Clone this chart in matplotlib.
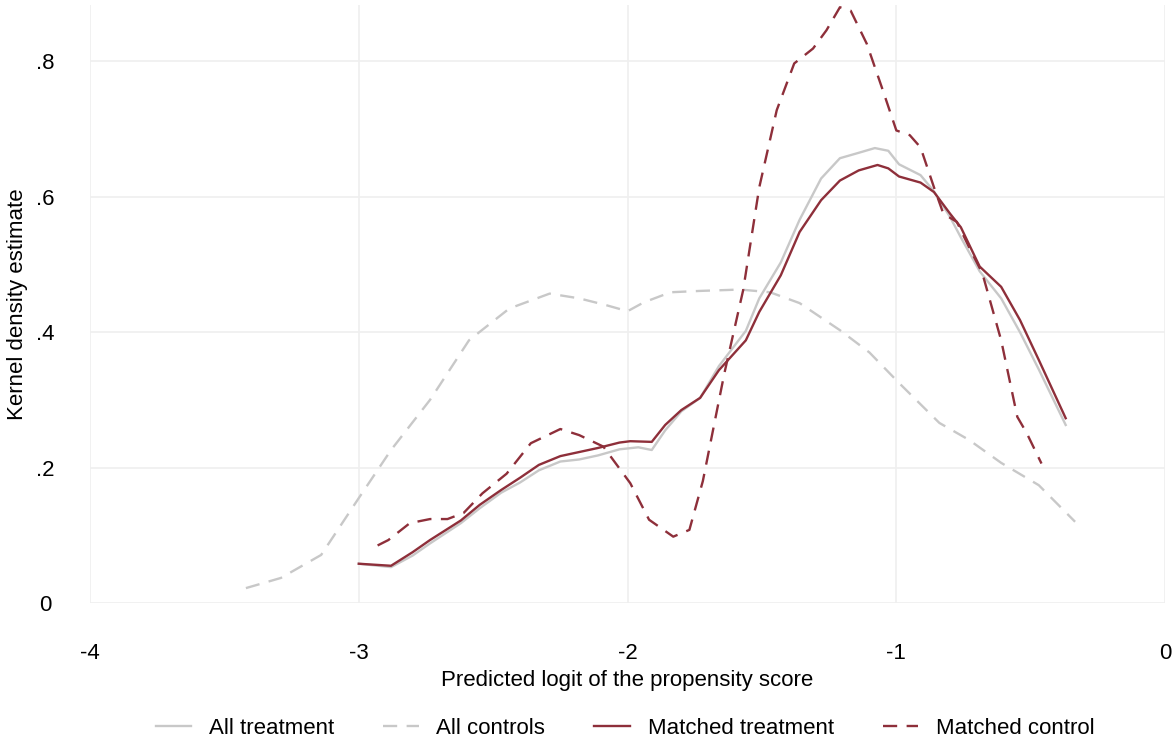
import numpy as np
import matplotlib.pyplot as plt

plt.rcParams['font.family'] = ['Liberation Sans', 'DejaVu Sans']

# All treatment (grey solid)
at_x = [-3.00, -2.88, -2.80, -2.735, -2.62, -2.55, -2.47, -2.40, -2.33, -2.25, -2.18, -2.11,
        -2.03, -1.96, -1.91, -1.86, -1.80, -1.73, -1.66, -1.56, -1.51, -1.43, -1.36, -1.28,
        -1.21, -1.14, -1.08, -1.03, -0.99, -0.91, -0.86, -0.80, -0.76, -0.69, -0.61, -0.54,
        -0.47, -0.37]
at_y = [0.058, 0.053, 0.070, 0.088, 0.118, 0.140, 0.163, 0.178, 0.196, 0.209, 0.212, 0.218,
        0.227, 0.230, 0.226, 0.255, 0.283, 0.303, 0.350, 0.402, 0.450, 0.503, 0.566, 0.627,
        0.657, 0.665, 0.672, 0.668, 0.648, 0.632, 0.608, 0.570, 0.540, 0.490, 0.450, 0.400,
        0.345, 0.263]

# All controls (grey dashed)
ac_x = [-3.42, -3.29, -3.14, -3.00, -2.88, -2.735, -2.59, -2.44, -2.29, -2.18, -2.08,
        -2.00, -1.94, -1.84, -1.73, -1.58, -1.47, -1.36, -1.21, -1.10, -0.99, -0.84,
        -0.73, -0.61, -0.47, -0.335]
ac_y = [0.022, 0.037, 0.071, 0.155, 0.226, 0.300, 0.388, 0.435, 0.457, 0.450, 0.440,
        0.431, 0.444, 0.459, 0.461, 0.463, 0.459, 0.443, 0.403, 0.370, 0.325, 0.266,
        0.241, 0.207, 0.174, 0.120]

# Matched treatment (red solid)
mt_x = [-3.00, -2.88, -2.80, -2.735, -2.62, -2.55, -2.47, -2.40, -2.33, -2.25, -2.18, -2.11,
        -2.03, -1.99, -1.91, -1.86, -1.80, -1.73, -1.66, -1.56, -1.51, -1.43, -1.36, -1.28,
        -1.21, -1.14, -1.07, -1.03, -0.99, -0.91, -0.86, -0.80, -0.76, -0.69, -0.61, -0.54,
        -0.47, -0.37]
mt_y = [0.058, 0.055, 0.075, 0.093, 0.122, 0.145, 0.167, 0.185, 0.204, 0.217, 0.223, 0.229,
        0.237, 0.239, 0.238, 0.263, 0.285, 0.303, 0.344, 0.388, 0.430, 0.484, 0.548, 0.595,
        0.624, 0.639, 0.647, 0.642, 0.630, 0.621, 0.607, 0.575, 0.555, 0.497, 0.467, 0.418,
        0.359, 0.273]

# Matched control (red dashed)
mc_x = [-2.93, -2.89, -2.81, -2.735, -2.67, -2.61, -2.54, -2.45, -2.36, -2.25, -2.18, -2.09,
        -1.99, -1.92, -1.83, -1.77, -1.72, -1.64, -1.57, -1.51, -1.445, -1.38, -1.31, -1.26,
        -1.21, -1.17, -1.11, -1.05, -1.00, -0.95, -0.91, -0.86, -0.825, -0.775, -0.73, -0.68,
        -0.61, -0.55, -0.515, -0.46]
mc_y = [0.085, 0.093, 0.118, 0.124, 0.124, 0.133, 0.162, 0.191, 0.236, 0.257, 0.248, 0.231,
        0.177, 0.123, 0.098, 0.108, 0.180, 0.339, 0.462, 0.614, 0.728, 0.797, 0.819, 0.846,
        0.880, 0.875, 0.826, 0.757, 0.698, 0.691, 0.673, 0.614, 0.575, 0.563, 0.526, 0.487,
        0.388, 0.275, 0.251, 0.206]

grey = '#c8c8c8'
red = '#8e2f3a'

fig = plt.figure(figsize=(11.75, 7.45), dpi=100)
ax = fig.add_axes([0.0766, 0.1906, 0.915, 0.8024])

ax.plot(at_x, at_y, color=grey, lw=1.7, label='All treatment')
ax.plot(ac_x, ac_y, color=grey, lw=1.7, ls=(0, (6, 4)), label='All controls')
ax.plot(mt_x, mt_y, color=red, lw=1.7, label='Matched treatment')
ax.plot(mc_x, mc_y, color=red, lw=1.7, ls=(0, (6, 4)), label='Matched control')

ax.set_xlim(-4, 0)
ax.set_ylim(0, 0.883)
ax.set_xticks([-4, -3, -2, -1, 0])
ax.set_xticklabels(['-4', '-3', '-2', '-1', '0'])
ax.set_yticks([0, 0.2, 0.4, 0.6, 0.8])
ax.set_yticklabels(['0', '.2', '.4', '.6', '.8'])
for lab in ax.get_yticklabels():
    lab.set_ha('center')
ax.tick_params(axis='x', length=0, pad=29, labelsize=16)
ax.tick_params(axis='y', length=0, pad=32, labelsize=16)
for s in ax.spines.values():
    s.set_visible(False)
ax.grid(color='#efefef', lw=1.2)
ax.set_axisbelow(True)

ax.set_xlabel('Predicted logit of the propensity score', fontsize=16, labelpad=4)
ax.set_ylabel('Kernel density estimate', fontsize=16, labelpad=6)

fig.legend(loc='center', bbox_to_anchor=(0.532, 1 - 728 / 745), ncol=4, frameon=False,
           fontsize=16, handlelength=1.6, columnspacing=2.2, handletextpad=0.8)

fig.savefig('out.png', dpi=100)
